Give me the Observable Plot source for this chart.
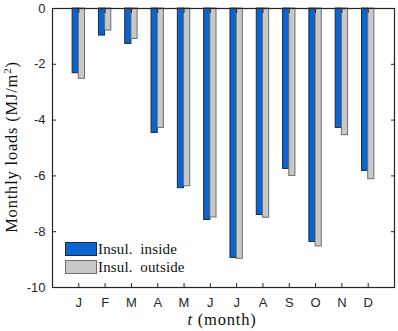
<!DOCTYPE html>
<html>
<head>
<meta charset="utf-8">
<script src="https://cdn.jsdelivr.net/npm/d3@7"></script>
<script src="https://cdn.jsdelivr.net/npm/@observablehq/plot@0.6"></script>
<style>
  html, body { margin: 0; padding: 0; background: #fff; }
  #wrap { position: relative; width: 398px; height: 331px; }
  .lab { position: absolute; font-family: "Liberation Serif", "DejaVu Serif", serif; font-size: 16.5px; letter-spacing: 0.8px; color: #111; white-space: nowrap; }
  .leg { position: absolute; font-family: "Liberation Serif", "DejaVu Serif", serif; font-size: 15px; letter-spacing: 0.15px; color: #111; white-space: nowrap; }
  .sw { position: absolute; box-sizing: border-box; }
</style>
</head>
<body>
<div id="wrap"></div>
<script>
const months = ["J","F","M","A","M","J","J","A","S","O","N","D"];
const insulInside  = [-2.32,-0.97,-1.27,-4.46,-6.44,-7.58,-8.94,-7.40,-5.75,-8.37,-4.28,-5.82];
const insulOutside = [-2.52,-0.79,-1.09,-4.28,-6.37,-7.49,-8.97,-7.50,-6.00,-8.53,-4.54,-6.12];
const yTicks = [0,-2,-4,-6,-8,-10];
const seriesNames = ["Insul. inside", "Insul. outside"];
const colors = {inside: "#0a64d2", outside: "#c8c8c8"};
const edges = {inside: "#1c2a44", outside: "#6e6e6e"};

const idx = months.map((_, i) => i + 1);
const halfW = 0.235;
const dataIn = idx.map((m, i) => ({m, v: insulInside[i]}));
const dataOut = idx.map((m, i) => ({m, v: insulOutside[i]}));

const tickFont = {fontFamily: "Liberation Sans, Arial, sans-serif", fontSize: 13};

const chart = Plot.plot({
  width: 398,
  height: 331,
  marginLeft: 52,
  marginRight: 4,
  marginTop: 8,
  marginBottom: 44,
  style: {background: "white", color: "#262626", overflow: "visible"},
  x: {domain: [0, 13], label: null},
  y: {domain: [-10, 0], label: null},
  marks: [
    Plot.rect(dataIn, {x1: d => d.m - halfW, x2: d => d.m, y1: 0, y2: "v", fill: colors.inside, stroke: edges.inside, strokeWidth: 1}),
    Plot.rect(dataOut, {x1: d => d.m, x2: d => d.m + halfW, y1: 0, y2: "v", fill: colors.outside, stroke: edges.outside, strokeWidth: 1}),
    Plot.axisX({anchor: "bottom", ticks: idx, tickFormat: d => months[d - 1], tickSize: -4, tickPadding: 14, label: null, ...tickFont, stroke: "#262626"}),
    Plot.axisX({anchor: "top", ticks: idx, tickFormat: () => "", tickSize: -4, label: null}),
    Plot.axisY({anchor: "left", ticks: yTicks, tickFormat: d => String(d), tickSize: -4, tickPadding: 11, label: null, ...tickFont}),
    Plot.axisY({anchor: "right", ticks: yTicks, tickFormat: () => "", tickSize: -4, label: null}),
    Plot.frame({stroke: "#262626", strokeWidth: 1.2})
  ]
});

const wrap = document.getElementById("wrap");
wrap.appendChild(chart);

// Axis titles
const yl = document.createElement("div");
yl.className = "lab";
yl.innerHTML = "Monthly loads (MJ/m<sup style='font-size:11px;vertical-align:6px;line-height:0'>2</sup>)";
yl.style.left = "12px";
yl.style.top = "147px";
yl.style.transform = "translate(-50%,-50%) rotate(-90deg)";
wrap.appendChild(yl);

const xl = document.createElement("div");
xl.className = "lab";
xl.innerHTML = "<i>t</i> (month)";
xl.style.left = "222px";
xl.style.top = "320px";
xl.style.transform = "translate(-50%,-50%)";
wrap.appendChild(xl);

// Legend
[["inside", 242, seriesNames[0]], ["outside", 260, seriesNames[1]]].forEach(([k, top, name]) => {
  const sw = document.createElement("div");
  sw.className = "sw";
  sw.style.left = "65px"; sw.style.top = top + "px";
  sw.style.width = "32px"; sw.style.height = "14px";
  sw.style.background = colors[k];
  sw.style.border = "1px solid " + edges[k];
  wrap.appendChild(sw);
  const t = document.createElement("div");
  t.className = "leg";
  t.textContent = name.replace(". ", ".\u2002");
  t.style.left = "98px"; t.style.top = (top + 7) + "px";
  t.style.transform = "translateY(-50%)";
  wrap.appendChild(t);
});
</script>
</body>
</html>
